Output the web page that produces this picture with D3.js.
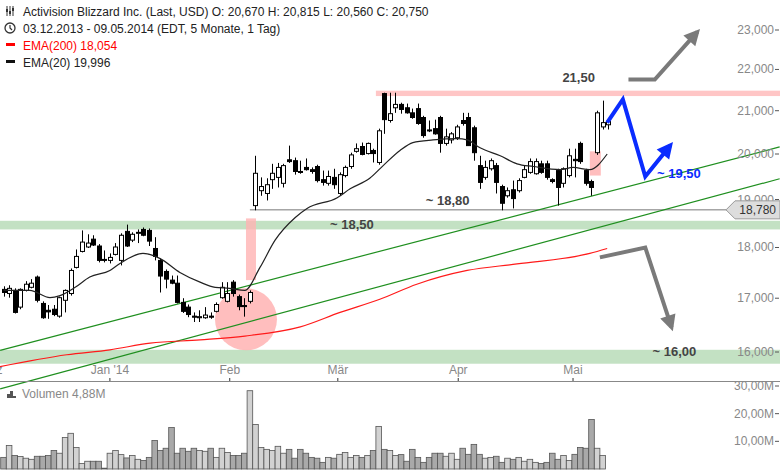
<!DOCTYPE html>
<html>
<head>
<meta charset="utf-8">
<script src="https://cdn.jsdelivr.net/npm/d3@7"></script>
<style>
  body { margin: 0; background: #fff; }
  svg { font-family: "Liberation Sans", Arial, sans-serif; }
  .ax { font-family: "Liberation Sans Narrow", "Liberation Sans", Arial, sans-serif; font-size: 12px; fill: #888; }
</style>
</head>
<body>
<svg id="chart" width="780" height="470"></svg>
<script>
// daily candles 03.12.2013 - 09.05.2014, [open, high, low, close]
var candles = [
  [17.17,17.23,17.03,17.11],[17.09,17.25,17.01,17.19],[17.15,17.19,16.71,16.73],[16.83,17.19,16.79,17.17],
  [17.15,17.33,17.13,17.27],[17.21,17.37,17.19,17.29],[17.41,17.44,16.92,16.96],[16.90,16.94,16.61,16.63],
  [16.77,16.87,16.61,16.74],[16.79,16.87,16.66,16.69],[16.66,17.03,16.63,17.01],[16.96,17.17,16.73,17.15],
  [17.09,17.58,17.05,17.54],[17.60,17.96,17.58,17.82],[17.92,18.35,17.90,18.11],[18.01,18.27,17.99,18.09],
  [18.17,18.25,18.03,18.05],[18.03,18.07,17.70,17.74],[17.76,17.94,17.70,17.74],[17.74,17.88,17.68,17.80],
  [17.86,18.09,17.84,18.01],[17.74,18.29,17.64,18.25],[18.33,18.47,18.01,18.03],[18.15,18.31,18.11,18.27],
  [18.29,18.37,18.09,18.31],[18.37,18.41,18.23,18.25],[18.35,18.39,18.03,18.13],[17.98,18.21,17.74,17.82],
  [17.74,17.78,17.11,17.43],[17.52,17.56,17.19,17.37],[17.35,17.44,17.27,17.29],[17.29,17.44,16.90,16.92],
  [16.92,17.00,16.72,16.75],[16.83,16.88,16.64,16.69],[16.66,16.73,16.55,16.64],[16.63,16.77,16.55,16.65],
  [16.63,16.83,16.61,16.68],[16.66,16.73,16.61,16.64],[16.75,16.92,16.73,16.88],[17.01,17.31,16.99,17.21],
  [16.94,17.31,16.92,17.09],[17.31,17.35,17.03,17.09],[17.03,17.07,16.77,16.84],[16.86,17.00,16.65,16.84],
  [16.94,17.15,16.90,17.11],[18.87,19.96,18.77,19.57],[19.19,19.48,19.08,19.28],[19.13,19.46,18.98,19.32],
  [19.43,19.78,19.23,19.57],[19.48,19.80,19.26,19.70],[19.35,19.78,19.26,19.74],[19.87,20.19,19.80,19.83],
  [19.85,19.92,19.54,19.61],[19.61,19.85,19.56,19.59],[19.70,19.90,19.63,19.65],[19.65,19.70,19.56,19.61],
  [19.72,19.76,19.37,19.41],[19.43,19.63,19.30,19.37],[19.35,19.63,19.30,19.50],[19.48,19.67,19.23,19.32],
  [19.13,19.59,19.08,19.54],[19.52,19.74,19.48,19.70],[19.72,20.03,19.67,19.98],[20.06,20.24,20.03,20.12],
  [20.17,20.26,19.97,19.99],[20.01,20.26,19.99,20.24],[20.08,20.12,19.81,20.01],[19.81,20.58,19.76,20.53],
  [21.41,21.43,20.46,20.79],[20.77,21.43,20.72,20.93],[21.07,21.43,20.95,21.15],[21.15,21.19,20.93,21.03],
  [21.07,21.17,20.93,20.95],[20.95,21.05,20.81,20.84],[21.05,21.17,20.67,20.70],[20.84,20.88,20.37,20.42],
  [20.55,20.77,20.50,20.53],[20.58,20.79,20.44,20.46],[20.84,20.88,20.03,20.24],[20.24,20.58,20.19,20.39],
  [20.32,20.50,20.24,20.46],[20.37,20.67,20.32,20.62],[20.77,20.95,20.65,20.70],[20.84,20.95,20.19,20.19],
  [20.60,20.65,19.85,20.03],[19.74,19.96,19.23,19.37],[19.48,19.85,19.43,19.70],[19.67,19.90,19.63,19.85],
  [19.74,19.80,19.13,19.37],[19.28,19.32,18.77,18.92],[19.08,19.26,19.04,19.19],[19.21,19.41,18.81,19.02],
  [19.19,19.46,19.15,19.41],[19.48,19.74,19.46,19.65],[19.59,19.90,19.56,19.83],[19.56,19.90,19.54,19.83],
  [19.78,19.85,19.56,19.59],[19.78,19.85,19.43,19.48],[19.43,19.46,19.35,19.39],[19.63,19.67,18.87,19.26],
  [19.35,19.70,19.26,19.67],[19.52,20.12,19.48,19.96],[19.88,20.12,19.48,19.85],[20.24,20.28,19.78,19.83],
  [19.63,19.67,19.30,19.35],[19.39,19.43,19.08,19.26],[20.03,21.00,19.98,20.95],[20.62,21.24,20.56,20.72],
  [20.67,20.815,20.56,20.75]
];
// volume in millions
var volumes = [4.2,8.5,4.9,4.5,3.9,3.5,4.6,4.6,4.9,6.7,5.7,11.4,12.9,7.8,2.0,2.8,2.8,2.8,0.3,
  5.7,6.7,5.2,4.0,4.9,3.5,3.1,4.2,10.3,6.7,7.5,15.0,5.7,7.5,6.4,7.5,6.7,6.4,7.5,4.2,7.5,6.0,4.9,4.9,5.7,
  28.3,16.1,7.8,7.1,6.7,8.2,5.7,7.1,3.9,7.1,5.7,4.2,3.9,2.4,4.2,3.9,5.3,6.0,4.2,4.9,4.2,4.9,6.7,15.4,
  7.1,6.7,4.9,5.2,2.8,7.1,4.2,2.4,4.2,5.7,5.7,4.6,5.7,3.5,7.5,5.3,8.9,5.3,3.9,4.2,4.6,2.4,3.9,3.5,4.2,
  2.8,3.5,2.4,2.0,2.4,5.7,3.5,4.9,3.1,5.3,7.8,7.5,17.9,7.5,4.88];
// EMA lines, [candle index, value]
var ema20 = [[0,17.15],[4.7,17.15],[8.3,17.01],[10.1,17.05],[12.8,17.21],[15.4,17.41],[19,17.54],[20.8,17.68],
  [24.9,17.88],[27.9,17.78],[31.5,17.50],[35.1,17.31],[37.8,17.21],[40.4,17.19],[43.1,17.15],[45.8,17.60],
  [48.5,18.15],[52.1,18.62],[54.2,18.81],[59.6,19.04],[61.9,19.23],[65.4,19.46],[67.8,19.74],[70.8,20.08],
  [73.1,20.26],[76.7,20.32],[81,20.35],[82.8,20.32],[85.1,20.14],[88.7,19.96],[91.7,19.78],[94.6,19.72],
  [99.4,19.65],[101.7,19.70],[104.7,19.65],[107.8,20.00]];
var ema200 = [[-1,15.73],[11.3,15.95],[19,16.04],[26.2,16.16],[35.1,16.22],[43.1,16.29],[53,16.46],[60.1,16.73],
  [67.2,16.98],[73.8,17.27],[82.8,17.54],[91.7,17.67],[104.7,17.88],[107.8,17.98]];
var tickIdx = [-2.1, 19, 40.4, 59.7, 81.2, 101.7];
var tickLabels = ["Dez", "Jan '14", "Feb", "Mär", "Apr", "Mai"];
var priceTicks = [16, 17, 18, 19, 20, 21, 22, 23];
var volTicks = [10, 20, 30];
// support / resistance levels [from, to] in price
var greenBands = [[18.37, 18.55], [15.79, 16.04]];
var pinkBand = [21.35, 21.48];
// trend channels: [idx0, price0, idx1, price1]
var trendLines = [[-0.6, 16.03, 138.6, 20.16], [-0.6, 15.35, 138.6, 19.45]];

var svg = d3.select("#chart");
var x = d3.scaleLinear().domain([0, 108]).range([3.5, 608.3]);
var y = d3.scaleLog().domain([16, 23]).range([352, 30]);
var yv = d3.scaleLinear().domain([0, 30]).range([469, 386]);
var fmt3 = function (v) { return d3.format(",.3f")(v).replace(".", ","); };

// bands
greenBands.forEach(function (b) {
  svg.append("rect").attr("x", 0).attr("width", 780).attr("y", y(b[1])).attr("height", y(b[0]) - y(b[1]))
    .attr("fill", "#c3e1c3");
});
svg.append("rect").attr("x", x(66.5)).attr("width", 780 - x(66.5)).attr("y", y(pinkBand[1]))
  .attr("height", y(pinkBand[0]) - y(pinkBand[1])).attr("fill", "#ffc6c6");

// pink highlights
svg.append("rect").attr("x", x(43.3)).attr("width", 10).attr("y", y(18.6)).attr("height", y(17.35) - y(18.6))
  .attr("fill", "#ffb3b3").attr("opacity", 0.8);
svg.append("circle").attr("cx", x(43.3)).attr("cy", y(16.6)).attr("r", 31).attr("fill", "#ffb3b3").attr("opacity", 0.85);
svg.append("rect").attr("x", x(104.7)).attr("width", 11).attr("y", y(20.06)).attr("height", y(19.52) - y(20.06))
  .attr("fill", "#ffb3b3").attr("opacity", 0.85);

// 18,780 line
svg.append("line").attr("x1", x(44)).attr("x2", 780).attr("y1", y(18.78)).attr("y2", y(18.78))
  .attr("stroke", "#777").attr("stroke-width", 1);

// trend lines
trendLines.forEach(function (t) {
  svg.append("line").attr("x1", x(t[0])).attr("y1", y(t[1])).attr("x2", x(t[2])).attr("y2", y(t[3]))
    .attr("stroke", "#1f8f1f").attr("stroke-width", 1.2);
});

// EMAs
var ln = d3.line().x(function (d) { return x(d[0]); }).y(function (d) { return y(d[1]); }).curve(d3.curveMonotoneX);
svg.append("path").attr("d", ln(ema200)).attr("fill", "none").attr("stroke", "#ff1a1a").attr("stroke-width", 1.2);

// candles
var cw = 4;
candles.forEach(function (c, i) {
  var up = c[3] >= c[0];
  var cx = Math.round(x(i)) + 0.5;
  svg.append("line").attr("x1", cx).attr("x2", cx).attr("y1", y(c[1])).attr("y2", y(c[2]))
    .attr("stroke", "#000").attr("stroke-width", 1);
  var top = y(Math.max(c[0], c[3])), bot = y(Math.min(c[0], c[3]));
  svg.append("rect").attr("x", cx - cw / 2).attr("width", cw).attr("y", top).attr("height", Math.max(1, bot - top))
    .attr("fill", up ? "#fff" : "#000").attr("stroke", "#000").attr("stroke-width", 1);
});
svg.append("path").attr("d", ln(ema20)).attr("fill", "none").attr("stroke", "#222").attr("stroke-width", 1.2);

// arrows
var arrow = function (pts, color, w) {
  var p = pts.map(function (d) { return [x(d[0]), y(d[1])]; });
  svg.append("path").attr("d", d3.line()(p.slice(0, -1).concat([p[p.length - 1]])))
    .attr("fill", "none").attr("stroke", color).attr("stroke-width", w).attr("stroke-linejoin", "miter");
  var a = p[p.length - 2], b = p[p.length - 1];
  var ang = Math.atan2(b[1] - a[1], b[0] - a[0]);
  var L = 16, W = 8;
  var tip = [b[0] + Math.cos(ang) * 4, b[1] + Math.sin(ang) * 4];
  var bx = tip[0] - Math.cos(ang) * L, by = tip[1] - Math.sin(ang) * L;
  svg.append("path").attr("d", d3.line()([tip, [bx - Math.sin(ang) * W, by + Math.cos(ang) * W],
    [bx + Math.sin(ang) * W, by - Math.cos(ang) * W]]) + "Z").attr("fill", color);
};
arrow([[111.6, 21.75], [116.3, 21.75], [123.9, 22.95]], "#7a7a7a", 4);
arrow([[106.5, 17.8], [114.6, 18.0], [119.3, 16.45]], "#7a7a7a", 4);
arrow([[107.8, 20.72], [110.6, 21.27], [114.6, 19.5], [119.1, 20.2]], "#0a2cff", 4);

// text labels
var lab = function (t, i, p, color, anchor) {
  svg.append("text").attr("x", x(i)).attr("y", y(p)).attr("text-anchor", anchor || "start")
    .attr("font-size", 13).attr("font-weight", "bold").attr("fill", color).text(t);
};
lab("21,50", 99.8, 21.7, "#444");
lab("~ 18,80", 75.4, 18.88, "#444");
lab("~ 18,50", 58.3, 18.37, "#444");
lab("~ 16,00", 115.9, 15.92, "#444");
lab("~ 19,50", 116.7, 19.47, "#0a2cff");

// price axis
priceTicks.forEach(function (p) {
  svg.append("text").attr("class", "ax").attr("x", 774).attr("y", y(p) + 4).attr("text-anchor", "end").text(fmt3(p));
  svg.append("line").attr("x1", 775).attr("x2", 779).attr("y1", y(p)).attr("y2", y(p)).attr("stroke", "#555");
});
// last value box
var ly = y(18.78);
svg.append("path").attr("d", d3.line()([[735, ly - 9], [780, ly - 9], [780, ly + 9], [735, ly + 9], [726, ly]]) + "Z")
  .attr("fill", "#ddd").attr("stroke", "#999");
svg.append("text").attr("x", 776).attr("y", ly + 4).attr("text-anchor", "end").attr("font-size", 12)
  .attr("fill", "#333").text("18,780");

// x axis
svg.append("line").attr("x1", 0).attr("x2", 780).attr("y1", 381.5).attr("y2", 381.5).attr("stroke", "#888");
tickIdx.forEach(function (t, k) {
  svg.append("line").attr("x1", x(t)).attr("x2", x(t)).attr("y1", 378).attr("y2", 381).attr("stroke", "#333");
  svg.append("text").attr("class", "ax").attr("x", x(t)).attr("y", 374).attr("text-anchor", "middle").text(tickLabels[k]);
});

// volume
volumes.forEach(function (v, i) {
  var c = candles[i] || candles[candles.length - 1];
  var up = c[3] >= c[0];
  svg.append("rect").attr("x", x(i) - 2.8).attr("width", 5.6).attr("y", yv(v)).attr("height", yv(0) - yv(v))
    .attr("fill", up ? "#d2d2d2" : "#a9a9a9").attr("stroke", "#555").attr("stroke-width", 0.8);
});
volTicks.forEach(function (v) {
  svg.append("text").attr("class", "ax").attr("x", 774).attr("y", yv(v) + 4).attr("text-anchor", "end").text(v + ",00M");
  svg.append("line").attr("x1", 775).attr("x2", 779).attr("y1", yv(v)).attr("y2", yv(v)).attr("stroke", "#555");
});
svg.append("g").selectAll("rect").data([[7, 4], [10, 7], [13, 2]]).enter().append("rect")
  .attr("x", function (d) { return d[0]; }).attr("width", 3).attr("y", function (d) { return 398 - d[1]; })
  .attr("height", function (d) { return d[1]; }).attr("fill", "#555");
svg.append("text").attr("class", "ax").attr("x", 22).attr("y", 398).attr("fill", "#666").text("Volumen  4,88M");

// header
var head = [
  ["Activision Blizzard Inc. (Last, USD)  O: 20,670  H: 20,815  L: 20,560  C: 20,750", "#222"],
  ["03.12.2013 - 09.05.2014 (EDT, 5 Monate, 1 Tag)", "#222"],
  ["EMA(200)  18,054", "#ff0000"],
  ["EMA(20)  19,996", "#222"]
];
head.forEach(function (h, k) {
  svg.append("text").attr("x", 23).attr("y", 16 + k * 17).attr("font-size", 12).attr("fill", h[1]).text(h[0]);
});
[[7, 6], [10, 8], [13, 5]].forEach(function (d) {
  svg.append("line").attr("x1", d[0]).attr("x2", d[0]).attr("y1", 6).attr("y2", 16).attr("stroke", "#333");
  svg.append("rect").attr("x", d[0] - 1).attr("y", d[1] + 3).attr("width", 2).attr("height", 3).attr("fill", "#333");
});
svg.append("circle").attr("cx", 10).attr("cy", 28).attr("r", 5).attr("fill", "none").attr("stroke", "#333").attr("stroke-width", 1.3);
svg.append("path").attr("d", "M10,25V28L12,30").attr("fill", "none").attr("stroke", "#333").attr("stroke-width", 1.2);
svg.append("rect").attr("x", 6).attr("y", 43).attr("width", 9).attr("height", 3).attr("fill", "#ff0000");
svg.append("rect").attr("x", 6).attr("y", 60).attr("width", 9).attr("height", 3).attr("fill", "#111");
</script>
</body>
</html>
